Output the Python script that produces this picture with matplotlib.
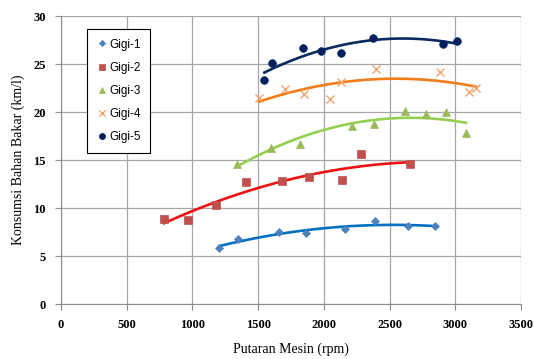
import numpy as np
import matplotlib
matplotlib.use("Agg")
import matplotlib.pyplot as plt

# Putaran mesin (rpm) dan konsumsi bahan bakar (km/l) per gigi
rpm_1 = [1205, 1344, 1657, 1864, 2161, 2385, 2636, 2846]
kml_1 = [5.8, 6.8, 7.5, 7.4, 7.8, 8.65, 8.15, 8.1]

rpm_2 = [784, 967, 1182, 1408, 1682, 1887, 2141, 2281, 2656]
kml_2 = [8.9, 8.75, 10.3, 12.7, 12.8, 13.2, 12.9, 15.6, 14.6]

rpm_3 = [1337, 1601, 1822, 2210, 2380, 2613, 2780, 2925, 3080]
kml_3 = [14.6, 16.3, 16.7, 18.6, 18.8, 20.1, 19.8, 20.0, 17.8]

rpm_4 = [1509, 1702, 1852, 2045, 2131, 2397, 2879, 3107, 3158]
kml_4 = [21.5, 22.4, 21.9, 21.35, 23.1, 24.5, 24.2, 22.1, 22.5]

rpm_5 = [1547, 1608, 1842, 1981, 2131, 2374, 2905, 3009]
kml_5 = [23.3, 25.1, 26.7, 26.4, 26.2, 27.7, 27.1, 27.4]

labels = ["Gigi-1", "Gigi-2", "Gigi-3", "Gigi-4", "Gigi-5"]

series = [(rpm_1, kml_1), (rpm_2, kml_2), (rpm_3, kml_3), (rpm_4, kml_4), (rpm_5, kml_5)]
markers = ["D", "s", "^", "x", "o"]
msizes = [4, 6, 6, 6, 5.5]
mcolors = ["#4F81BD", "#C0504D", "#9BBB59", "#F4A46A", "#002060"]
lcolors = ["#0070C0", "#EE1111", "#92D050", "#F07D1A", "#0B2A5E"]

fig = plt.figure(figsize=(5.34, 3.59), dpi=100)
ax = fig.add_axes([0.114, 0.153, 0.862, 0.802])

for (x, y), lab, m, ms, mc, lc in zip(series, labels, markers, msizes, mcolors, lcolors):
    x = np.array(x, dtype=float)
    y = np.array(y, dtype=float)
    # trendline polinomial orde 2
    coef = np.polyfit(x, y, 2)
    xs = np.linspace(x.min(), x.max(), 200)
    ax.plot(xs, np.polyval(coef, xs), color=lc, lw=1.9, zorder=2)
    ax.plot(x, y, ls="none", marker=m, ms=ms, color=mc, mec=mc,
            mew=1.0 if m == "x" else 0.5, label=lab, zorder=3)

ax.set_xlim(0, 3500)
ax.set_ylim(0, 30)
ax.set_xticks(np.arange(0, 3501, 500))
ax.set_yticks(np.arange(0, 31, 5))
ax.grid(True, color="#A6A6A6", lw=0.9)
ax.set_axisbelow(True)
for s in ["top", "right"]:
    ax.spines[s].set_visible(False)
for s in ["left", "bottom"]:
    ax.spines[s].set_color("#8C8C8C")
ax.tick_params(direction="out", length=4, color="#8C8C8C", pad=7)
for t in ax.get_xticklabels() + ax.get_yticklabels():
    t.set_fontfamily("Liberation Serif")
    t.set_fontweight("bold")
    t.set_fontsize(9)

ax.set_xlabel("Putaran Mesin (rpm)", fontfamily="Liberation Serif", fontsize=10, labelpad=8)
ax.set_ylabel("Konsumsi Bahan Bakar (km/l)", fontfamily="Liberation Serif", fontsize=10, labelpad=6)

leg = ax.legend(loc="upper left", bbox_to_anchor=(0.057, 0.955), borderaxespad=0,
                frameon=True, fancybox=False, edgecolor="black", framealpha=1,
                prop={"family": "Liberation Sans", "size": 8.5}, markerscale=0.8,
                handletextpad=0.1, handlelength=1.0, labelspacing=0.95, borderpad=0.8)
leg.get_frame().set_linewidth(0.8)

fig.savefig("out.png", dpi=100)
